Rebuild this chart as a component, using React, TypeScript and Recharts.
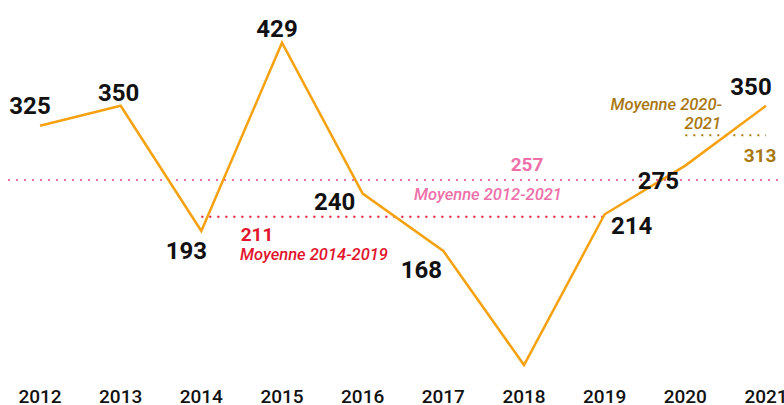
import { LineChart, Line, XAxis, YAxis, ReferenceLine, LabelList } from 'recharts'

const YEARS = ['2012', '2013', '2014', '2015', '2016', '2017', '2018', '2019', '2020', '2021']
const VALUES = [325, 350, 193, 429, 240, 168, 25, 214, 275, 350]
const SHOW_LABEL = [true, true, true, true, true, true, false, true, true, true]

const AVG_ALL = 257
const AVG_MID = 211
const AVG_END = 313

// label offsets relative to the point (dx, dy of the text centre)
const LABEL_OFFSET: [number, number][] = [
  [-10, -20], [-2, -13], [-15, 20], [-5, -14], [-28, 8],
  [-22, 19], [0, 0], [27, 12], [-27, 15], [-15, -19],
]

const data = YEARS.map((year, i) => ({ year, value: VALUES[i] }))

const FONT = 'Roboto, "Noto Sans", sans-serif'
const ORANGE = '#f5a110'
const PINK = '#ee6fa9'
const RED = '#e2132c'
const BROWN = '#a8770f'

const PointLabel = (props: any) => {
  const { x, y, index } = props
  if (!SHOW_LABEL[index]) return null
  const [dx, dy] = LABEL_OFFSET[index]
  return (
    <text x={x + dx} y={y + dy} textAnchor="middle" dominantBaseline="central"
      fontFamily={FONT} fontWeight={700} fontSize={24} fill="#111">
      {VALUES[index]}
    </text>
  )
}

const YearTick = (props: any) => {
  const { x, y, payload } = props
  return (
    <text x={x} y={y + 3} textAnchor="middle" dominantBaseline="central"
      fontFamily={FONT} fontWeight={500} fontSize={19} fill="#111">
      {payload.value}
    </text>
  )
}

const AllLabel = (props: any) => {
  const { viewBox } = props
  const y = viewBox.y
  return (
    <g fontFamily={FONT} textAnchor="middle">
      <text x={527} y={y - 15} dominantBaseline="central" fontWeight={700} fontSize={19} fill={PINK}>{AVG_ALL}</text>
      <text x={488} y={y + 15} dominantBaseline="central" fontStyle="italic" fontWeight={500} fontSize={16.5} fill={PINK}>Moyenne 2012-2021</text>
    </g>
  )
}

const MidLabel = (props: any) => {
  const { viewBox } = props
  const y = viewBox.y
  return (
    <g fontFamily={FONT} textAnchor="middle">
      <text x={257} y={y + 18} dominantBaseline="central" fontWeight={700} fontSize={19} fill={RED}>{AVG_MID}</text>
      <text x={314} y={y + 38} dominantBaseline="central" fontStyle="italic" fontWeight={500} fontSize={16.5} fill={RED}>Moyenne 2014-2019</text>
    </g>
  )
}

const EndLabel = (props: any) => {
  const { viewBox } = props
  const y = viewBox.y
  return (
    <g fontFamily={FONT}>
      <text x={722} y={y - 31} textAnchor="end" dominantBaseline="central" fontStyle="italic" fontWeight={500} fontSize={16.5} fill={BROWN}>Moyenne 2020-</text>
      <text x={721} y={y - 12} textAnchor="end" dominantBaseline="central" fontStyle="italic" fontWeight={500} fontSize={16.5} fill={BROWN}>2021</text>
      <text x={760} y={y + 20} textAnchor="middle" dominantBaseline="central" fontWeight={700} fontSize={19} fill={BROWN}>{AVG_END}</text>
    </g>
  )
}

export default function App() {
  return (
    <div style={{ position: 'absolute', left: 0, top: 0, width: 784, height: 405, background: '#fff' }}>
      <LineChart width={784} height={405} data={data} margin={{ top: 26, right: 0, bottom: 0, left: 8 }}>
        <XAxis
          dataKey="year"
          axisLine={false}
          tickLine={false}
          height={20}
          padding={{ left: 32, right: 18 }}
          tick={<YearTick />}
          interval={0}
        />
        <YAxis hide domain={[0, 450]} />
        <ReferenceLine y={AVG_ALL} stroke={PINK} strokeWidth={2} strokeDasharray="2 6" label={<AllLabel />} />
        <ReferenceLine
          segment={[{ x: '2014', y: AVG_MID }, { x: '2019', y: AVG_MID }]}
          stroke={RED} strokeWidth={2} strokeDasharray="2 6" label={<MidLabel />}
        />
        <ReferenceLine
          segment={[{ x: '2020', y: AVG_END }, { x: '2021', y: AVG_END }]}
          stroke={BROWN} strokeWidth={2} strokeDasharray="2 6" label={<EndLabel />}
        />
        <Line
          type="linear"
          dataKey="value"
          stroke={ORANGE}
          strokeWidth={2.5}
          dot={false}
          isAnimationActive={false}
        >
          <LabelList dataKey="value" content={<PointLabel />} />
        </Line>
      </LineChart>
    </div>
  )
}
